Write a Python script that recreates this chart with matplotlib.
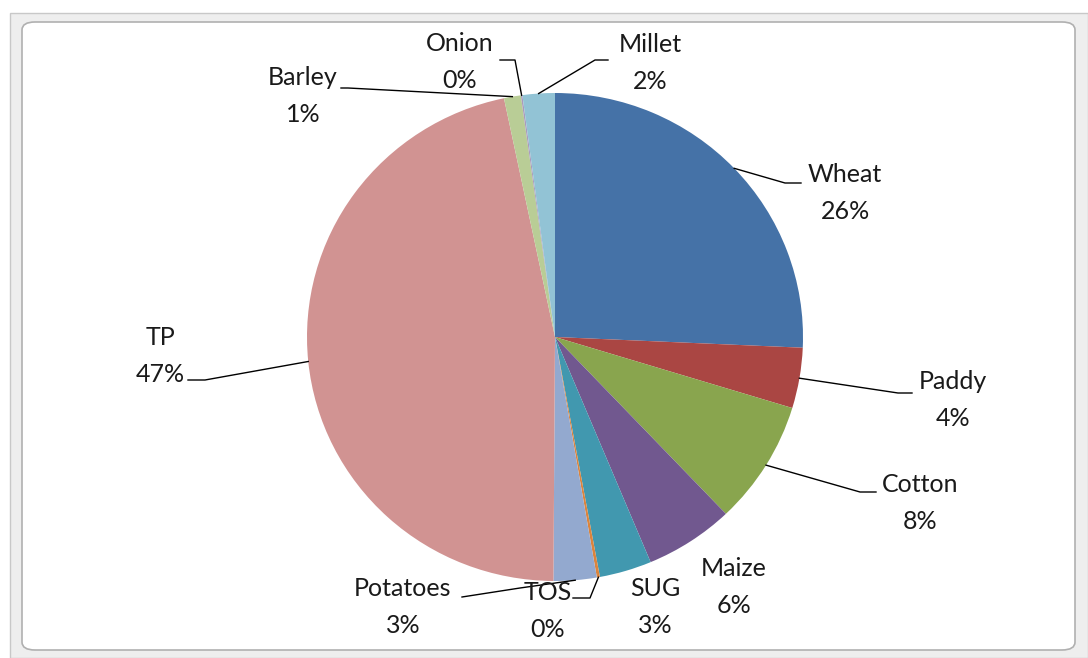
import numpy as np
import matplotlib.pyplot as plt
from matplotlib.lines import Line2D
from matplotlib.patches import FancyBboxPatch, Rectangle

crops = ["Wheat", "Paddy", "Cotton", "Maize", "SUG", "TOS", "Potatoes", "TP", "Barley", "Onion", "Millet"]
shares = [25.7, 4.0, 8.2, 5.8, 3.4, 0.2, 2.8, 46.6, 1.1, 0.1, 2.1]
pct_labels = ["26%", "4%", "8%", "6%", "3%", "0%", "3%", "47%", "1%", "0%", "2%"]
colors = ["#4572A7", "#AA4643", "#89A54E", "#71588F", "#4198AF", "#DB843D",
          "#93A9CF", "#D19392", "#B9CD96", "#A99BBD", "#92C3D5"]

W, H = 1088, 658
CX, CY, RX, RY = 555, 337, 248, 244

# label centre (px, y from top) and leader elbow / end points
label_pos = {
    "Wheat": (845, 193), "Paddy": (953, 400), "Cotton": (920, 503),
    "Maize": (734, 587), "SUG": (655, 607), "TOS": (548, 611),
    "Potatoes": (403, 607), "TP": (160, 356), "Barley": (303, 96),
    "Onion": (460, 62), "Millet": (650, 63),
}
leaders = {
    "Wheat": [(785, 183), (801, 183)],
    "Paddy": [(898, 393), (912, 393)],
    "Cotton": [(860, 492), (876, 492)],
    "TOS": [(590, 598), (573, 598)],
    "Potatoes": [(520, 588), (462, 597)],
    "TP": [(205, 380), (188, 380)],
    "Barley": [(348, 88), (341, 88)],
    "Onion": [(515, 60), (500, 60)],
    "Millet": [(595, 60), (608, 60)],
}


def fig_xy(p):
    return p[0] / W, 1 - p[1] / H


fig = plt.figure(figsize=(W / 100, H / 100), dpi=100)
fig.patch.set_facecolor("white")

# chart frame
fig.add_artist(Rectangle((10 / W, 0), 1 - 10 / W, 1 - 13 / H, transform=fig.transFigure,
                         facecolor="#EEEEEE", edgecolor="#C8C8C8", lw=1, zorder=-5))
fig.add_artist(FancyBboxPatch((22 / W, 8 / H), (1075 - 22) / W, (650 - 22) / H,
                              boxstyle="round,pad=0,rounding_size=0.012",
                              transform=fig.transFigure, facecolor="white",
                              edgecolor="#B0B0B0", lw=1.2, zorder=-4))

ax = fig.add_axes([(CX - RX) / W, (H - CY - RY) / H, 2 * RX / W, 2 * RY / H])
ax.set_zorder(1)
wedges, _ = ax.pie(shares, colors=colors, startangle=90, counterclock=False,
                   wedgeprops=dict(linewidth=0))
ax.set_aspect("auto")
ax.set_xlim(-1, 1)
ax.set_ylim(-1, 1)
ax.axis("off")

for w, name, pct in zip(wedges, crops, pct_labels):
    lx, ly = fig_xy(label_pos[name])
    fig.text(lx, ly, f"{name}\n{pct}", ha="center", va="center", fontsize=18,
             family="Lato", linespacing=1.7, color="#1A1A1A", zorder=3)
    if name in leaders:
        mid = np.deg2rad((w.theta1 + w.theta2) / 2)
        start = (CX + RX * np.cos(mid), CY - RY * np.sin(mid))
        pts = [start] + leaders[name]
        xs, ys = zip(*[fig_xy(p) for p in pts])
        fig.add_artist(Line2D(xs, ys, transform=fig.transFigure, color="black", lw=1, zorder=3))

fig.savefig("out.png", dpi=100)
